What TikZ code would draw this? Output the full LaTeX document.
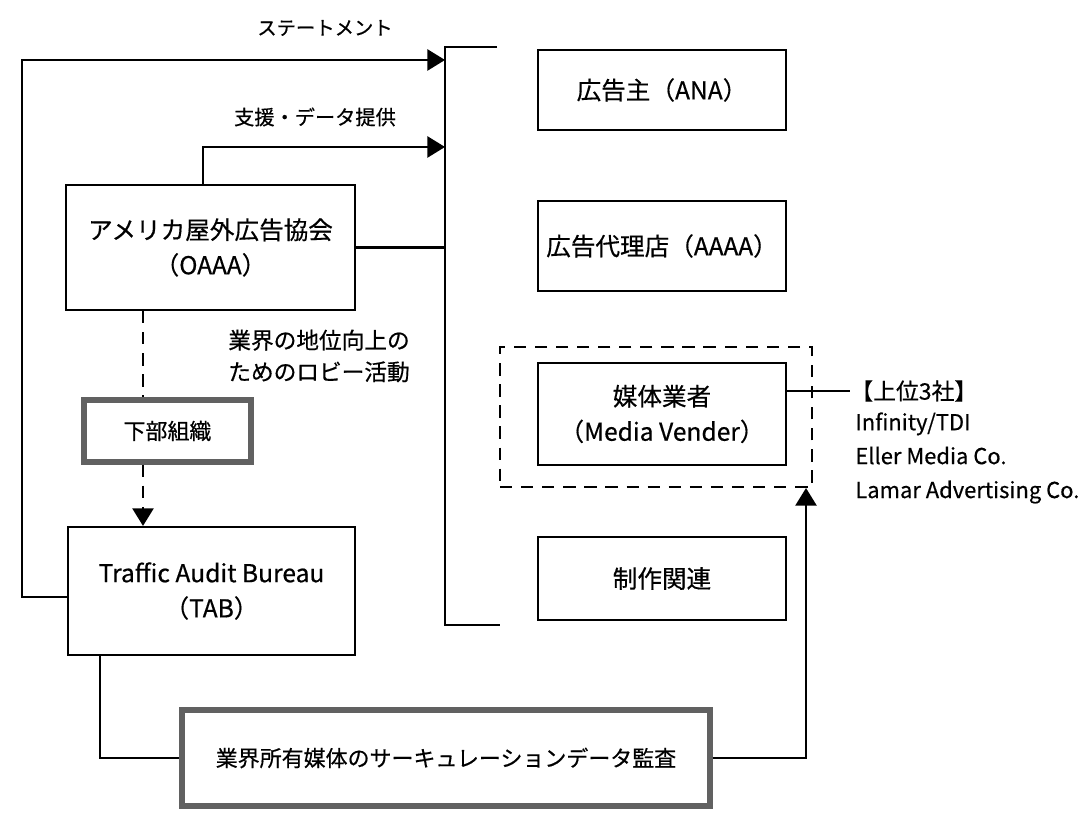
\documentclass[tikz,border=0pt]{standalone}
\usepackage{fontspec}
\setmainfont{Noto Sans CJK JP}[FakeBold=0.5]
\usetikzlibrary{arrows.meta}

\begin{document}
\begin{tikzpicture}[
        orgbox/.style={draw,line width=1.2pt,align=center,inner sep=0pt,font=\fontsize{14}{20}\selectfont},
        framebox/.style={draw=black!62,line width=3pt,align=center,inner sep=0pt,font=\fontsize{12.5}{15}\selectfont},
        note/.style={inner sep=0pt,font=\fontsize{11.5}{14}\selectfont},
        link/.style={line width=1.2pt},
        tip/.style={-{Triangle[length=10pt,width=12pt]}},
        dashline/.style={line width=1.2pt,dash pattern=on 7pt off 5pt}
    ]
            \useasboundingbox (0,0) rectangle (21.82,16.38);

            \node[orgbox,minimum width=5.78cm,minimum height=2.5cm] (oaaa) at (4.21,11.43) {アメリカ屋外広告協会\\（OAAA）};
            \node[framebox,minimum width=3.34cm,minimum height=1.24cm] (subOrg) at (3.35,7.76) {下部組織};
            \node[orgbox,minimum width=5.74cm,minimum height=2.56cm] (tab) at (4.23,4.56) {Traffic Audit Bureau\\（TAB）};
            \node[framebox,minimum width=10.56cm,minimum height=1.92cm] (audit) at (8.92,1.22) {業界所有媒体のサーキュレーションデータ監査};

            \node[orgbox,minimum width=4.96cm,minimum height=1.6cm] (ana) at (13.24,14.58) {広告主（ANA）};
            \node[orgbox,minimum width=4.96cm,minimum height=1.8cm] (aaaa) at (13.24,11.46) {広告代理店（AAAA）};
            \node[orgbox,minimum width=4.96cm,minimum height=2.04cm] (media) at (13.24,8.1) {媒体業者\\（Media Vender）};
            \node[orgbox,minimum width=4.96cm,minimum height=1.66cm] (prod) at (13.24,4.81) {制作関連};
            \node[dashline,draw,minimum width=6.24cm,minimum height=2.8cm] (mediaGroup) at (13.12,8.04) {};

            \node[note,font=\fontsize{11}{14}\selectfont] (stmt) at (6.5,15.82) {ステートメント};
            \node[note] (support) at (6.3,14.04) {支援・データ提供};
            \node[note,anchor=west,align=left,font=\fontsize{12.9}{18}\selectfont] (lobby) at (4.56,9.26) {業界の地位向上の\\ためのロビー活動};
            \node[note,anchor=west,font=\fontsize{13}{19}\selectfont] (top3) at (17.0,8.56) {【上位3社】};
            \node[note,anchor=west,align=left,font=\fontsize{12.5}{19.3}\selectfont] (makers) at (17.1,7.22) {Infinity/TDI\\Eller Media Co.\\Lamar Advertising Co.};

            \coordinate (brkTop) at (8.9,15.44);
            \coordinate (brkBot) at (8.9,3.88);
            \coordinate (stmtEnd) at (8.9,15.18);
            \coordinate (supEnd) at (8.9,13.44);
            \coordinate (dashX) at (2.86,0);

            \draw[link] (9.94,15.44) -- (brkTop) -- (brkBot) -- (10.0,3.88);
            \draw[link,tip] ([yshift=-0.12cm]tab.west) -- ++(-0.9,0) |- (stmtEnd);
            \draw[link,tip] ([xshift=-0.15cm]oaaa.north) |- (supEnd);
            \draw[link] (oaaa.east) -- (oaaa.east -| brkTop);
            \draw[dashline] (oaaa.south -| dashX) -- (subOrg.north -| dashX);
            \draw[dashline,tip] (subOrg.south -| dashX) -- (tab.north -| dashX);
            \draw[link] ([xshift=-2.23cm]tab.south) |- (audit.west);
            \draw[link,tip] (audit.east) -| ([xshift=3cm]mediaGroup.south);
            \draw[link] (top3.west -| media.east) -- (top3.west);
        \end{tikzpicture}
\end{document}
